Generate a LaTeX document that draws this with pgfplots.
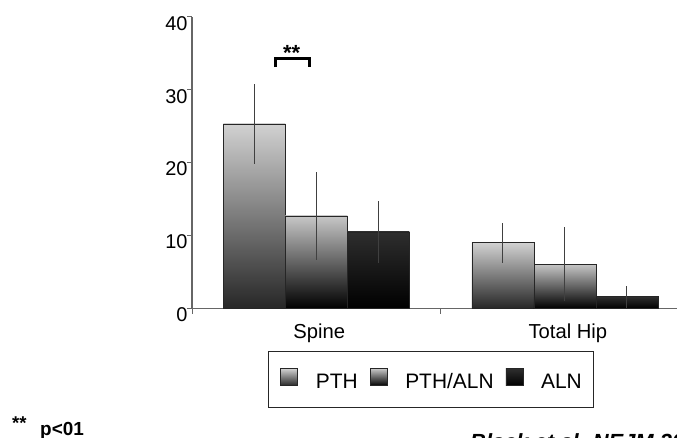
\documentclass[border=0pt]{standalone}
\usepackage{fontspec}
\setmainfont{Liberation Sans}
\usepackage{pgfplots}
\pgfplotsset{compat=1.18}

\pgfplotsset{
    pth/.style={draw=black!85, line width=0.7bp,
        top color=black!18, middle color=black!50, bottom color=black!85},
    pthaln/.style={draw=black!85, line width=0.7bp,
        top color=black!22, middle color=black!62, bottom color=black},
    aln/.style={draw=black!85, line width=0.7bp,
        top color=black!82, middle color=black!97, bottom color=black},
}

\begin{document}
\begin{tikzpicture}
\path[use as bounding box, clip] (0,0) rectangle (677bp,438bp);
\begin{axis}[
    at={(192bp,129.5bp)}, anchor=south west,
    scale only axis, width=497.2bp, height=291.8bp,
    xmin=-0.5, xmax=1.5, ymin=0, ymax=40,
    ybar, bar width=62bp,
    axis x line*=bottom, axis y line*=left,
    axis line style={draw=black!60, line width=1.2bp, -},
    /pgf/number format/assume math mode=true,
    tick align=outside, major tick length=5bp,
    tick style={draw=black!60, line width=1bp},
    ytick={0,10,20,30,40},
    y tick label style={font=\fontsize{20}{22}\selectfont, yshift=-6.5bp, xshift=4bp},
    xtick={-0.5,0.5,1.5}, xticklabels={,,},
    extra x ticks={0,1}, extra x tick labels={Spine,Total Hip},
    extra x tick style={major tick length=0pt,
        x tick label style={font=\fontsize{20.3}{22}\selectfont, yshift=-12bp, xshift=3bp}},
    legend columns=-1,
    legend image code/.code={\draw[#1, line width=0.5bp] (0bp,-3.5bp) rectangle (17bp,13.5bp);},
    legend style={at={(0.1529,-0.1456)}, anchor=north west,
        draw=black!85, line width=0.8bp,
        inner xsep=12bp, inner ysep=17bp,
        nodes={inner sep=0bp},
        font=\fontsize{21}{24}\selectfont,
        /tikz/every odd column/.append style={column sep=18bp},
        /tikz/every even column/.append style={column sep=12bp}},
    error bars/y dir=both, error bars/y explicit,
    error bars/error mark=none,
    error bars/error bar style={draw=black!75, line width=1.1bp},
]
% Spine
\addplot[pth, forget plot, bar shift=-62bp]
    coordinates {(0,25.3) +- (0,5.5)};
\addplot[pthaln, forget plot, bar shift=0bp]
    coordinates {(0,12.7) +- (0,6.0)};
\addplot[aln, forget plot, bar shift=62bp]
    coordinates {(0,10.5) +- (0,4.2)};
% Total Hip
\addplot[pth, forget plot, bar shift=-62bp]
    coordinates {(1,9.0) +- (0,2.7)};
\addplot[pthaln, forget plot, bar shift=0bp]
    coordinates {(1,6.1) +- (0,5.1)};
\addplot[aln, forget plot, bar shift=62bp]
    coordinates {(1,1.6) +- (0,1.5)};

\addlegendimage{pth}
\addlegendimage{pthaln}
\addlegendimage{aln}
\legend{PTH,PTH/ALN,ALN}

\draw[line width=2.5bp, black] (axis cs:-0.164,33.1) -- (axis cs:-0.164,34.3)
    -- (axis cs:-0.027,34.3) -- (axis cs:-0.027,33.1);
\node[font=\bfseries\fontsize{22}{24}\selectfont, anchor=base, inner sep=0]
    at (axis cs:-0.099,33.95) {**};
\end{axis}
\node[anchor=base west, inner sep=0, font=\bfseries\fontsize{18.6}{20}\selectfont]
    at (12bp,9bp) {**};
\node[anchor=base west, inner sep=0, font=\bfseries\fontsize{19}{20}\selectfont]
    at (40bp,3bp) {p<01};
\node[anchor=base west, inner sep=0, font=\bfseries\itshape\fontsize{22}{24}\selectfont]
    at (470bp,-11bp) {Black et al. NEJM 2003};
\end{tikzpicture}
\end{document}
